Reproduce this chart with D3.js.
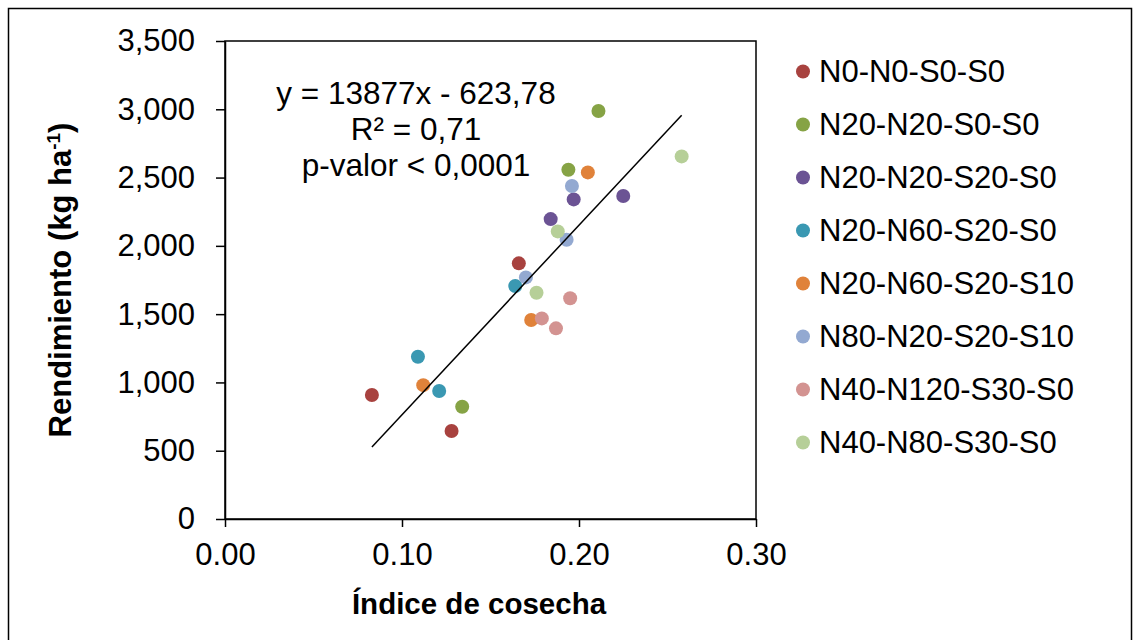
<!DOCTYPE html>
<html>
<head>
    <title>Rendimiento vs Índice de cosecha</title>
    <script src="https://cdn.jsdelivr.net/npm/d3@7"></script>
    <style>
        body {
            margin: 0;
            background-color: white;
            font-family: "Liberation Sans", Arial, sans-serif;
        }
        text {
            font-family: "Liberation Sans", Arial, sans-serif;
            fill: #000;
        }
    </style>
</head>
<body>
    <div id="chart"></div>

    <script>
        // treatments (legend order) and their marker colours
        const treatments = [
            "N0-N0-S0-S0", "N20-N20-S0-S0", "N20-N20-S20-S0", "N20-N60-S20-S0",
            "N20-N60-S20-S10", "N80-N20-S20-S10", "N40-N120-S30-S0", "N40-N80-S30-S0"
        ];
        const colors = ["#A8423F", "#86A345", "#6B5394", "#3A98B2", "#E0823A", "#93A9D1", "#D39391", "#B6CF98"];

        // harvest index per treatment (3 reps)
        const indice = [
            [0.083, 0.128, 0.166],
            [0.134, 0.194, 0.211],
            [0.184, 0.197, 0.225],
            [0.109, 0.121, 0.164],
            [0.112, 0.173, 0.205],
            [0.170, 0.193, 0.196],
            [0.179, 0.187, 0.195],
            [0.176, 0.188, 0.258]
        ];
        // yield (kg/ha) per treatment
        const rendimiento = [
            [908, 644, 1872],
            [822, 2557, 2987],
            [2196, 2340, 2365],
            [1188, 937, 1706],
            [980, 1457, 2538],
            [1769, 2045, 2438],
            [1469, 1396, 1616],
            [1657, 2106, 2655]
        ];

        const xTicks = [0, 0.1, 0.2, 0.3];
        const yTicks = [0, 500, 1000, 1500, 2000, 2500, 3000, 3500];
        const slope = 13877, intercept = -623.78;
        const eqLines = ["y = 13877x - 623,78", "R² = 0,71", "p-valor < 0,0001"];

        const W = 1141, H = 640;
        const plot = { left: 225, right: 756, top: 41, bottom: 519 };

        const svg = d3.select("#chart")
            .append("svg")
            .attr("width", W)
            .attr("height", H);

        // outer chart border
        svg.append("rect")
            .attr("x", 8.5).attr("y", 8.5)
            .attr("width", 1123).attr("height", 650)
            .attr("fill", "none")
            .attr("stroke", "#000")
            .attr("stroke-width", 1.5);

        const x = d3.scaleLinear().domain([0, 0.3]).range([plot.left, plot.right]);
        const y = d3.scaleLinear().domain([0, 3500]).range([plot.bottom, plot.top]);

        // plot area frame
        svg.append("rect")
            .attr("x", plot.left).attr("y", plot.top)
            .attr("width", plot.right - plot.left)
            .attr("height", plot.bottom - plot.top)
            .attr("fill", "none")
            .attr("stroke", "#000")
            .attr("stroke-width", 1.5);

        // Y axis
        const yAxis = svg.append("g")
            .attr("transform", `translate(${plot.left},0)`)
            .call(d3.axisLeft(y).tickValues(yTicks).tickFormat(d3.format(",")).tickSize(9).tickSizeOuter(0).tickPadding(21));
        yAxis.select(".domain").attr("stroke-width", 1.5);
        yAxis.selectAll(".tick line").attr("stroke-width", 1.5);
        yAxis.selectAll(".tick text").style("font-size", "31px");

        // X axis
        const xAxis = svg.append("g")
            .attr("transform", `translate(0,${plot.bottom})`)
            .call(d3.axisBottom(x).tickValues(xTicks).tickFormat(d3.format(".2f")).tickSize(8).tickSizeOuter(0).tickPadding(16));
        xAxis.select(".domain").attr("stroke-width", 1.5);
        xAxis.selectAll(".tick line").attr("stroke-width", 1.5);
        xAxis.selectAll(".tick text").style("font-size", "31px");

        // points
        const points = [];
        treatments.forEach((t, i) => {
            indice[i].forEach((v, j) => points.push({ t: i, ic: v, rend: rendimiento[i][j] }));
        });

        svg.append("g")
            .selectAll("circle")
            .data(points)
            .enter()
            .append("circle")
            .attr("cx", d => x(d.ic))
            .attr("cy", d => y(d.rend))
            .attr("r", 7)
            .attr("fill", d => colors[d.t]);

        // regression line over data range
        const xMin = d3.min(points, d => d.ic), xMax = d3.max(points, d => d.ic);
        svg.append("line")
            .attr("x1", x(xMin)).attr("y1", y(slope * xMin + intercept))
            .attr("x2", x(xMax)).attr("y2", y(slope * xMax + intercept))
            .attr("stroke", "#000")
            .attr("stroke-width", 1.5);

        // equation label
        svg.append("g")
            .selectAll("text")
            .data(eqLines)
            .enter()
            .append("text")
            .attr("x", 416)
            .attr("y", (d, i) => 104 + i * 36)
            .attr("text-anchor", "middle")
            .style("font-size", "31.5px")
            .text(d => d);

        // axis titles
        svg.append("text")
            .attr("x", 479)
            .attr("y", 614)
            .attr("text-anchor", "middle")
            .style("font-size", "29.5px")
            .style("font-weight", "bold")
            .text("Índice de cosecha");

        const yTitle = svg.append("text")
            .attr("transform", `translate(71,${(plot.top + plot.bottom) / 2}) rotate(-90)`)
            .attr("text-anchor", "middle")
            .style("font-size", "31px")
            .style("font-weight", "bold");
        yTitle.append("tspan").text("Rendimiento (kg ha");
        yTitle.append("tspan").attr("dy", -11).style("font-size", "19px").text("-1");
        yTitle.append("tspan").attr("dy", 11).text(")");

        // legend
        const legend = svg.append("g")
            .selectAll("g")
            .data(treatments)
            .enter()
            .append("g")
            .attr("transform", (d, i) => `translate(803,${71.5 + i * 53})`);

        legend.append("circle")
            .attr("r", 7)
            .attr("fill", (d, i) => colors[i]);

        legend.append("text")
            .attr("x", 16)
            .attr("dy", "0.35em")
            .style("font-size", "31px")
            .text(d => d);
    </script>
</body>
</html>
